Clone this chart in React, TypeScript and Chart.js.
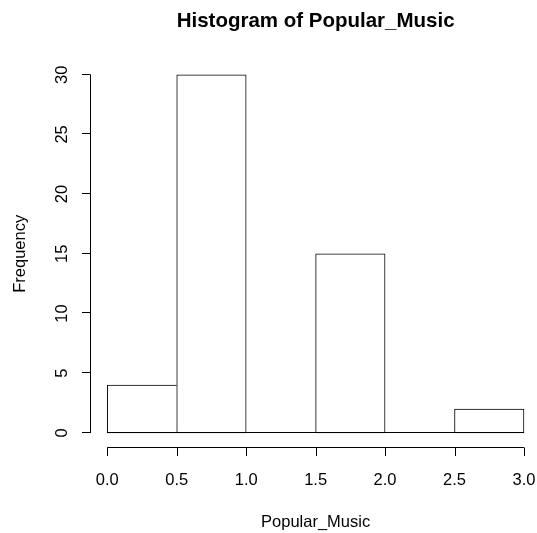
import React, { useEffect, useRef } from "react";
import { Chart, registerables } from "chart.js";

Chart.register(...registerables);

// ---- data ----
const BREAKS = [0, 0.5, 1.0, 1.5, 2.0, 2.5, 3.0];
const COUNTS = [4, 30, 0, 15, 0, 2];
const X_TICKS = [0, 0.5, 1.0, 1.5, 2.0, 2.5, 3.0];
const X_TICK_LABELS = ["0.0", "0.5", "1.0", "1.5", "2.0", "2.5", "3.0"];
const Y_TICKS = [0, 5, 10, 15, 20, 25, 30];
const Y_TICK_LABELS = ["0", "5", "10", "15", "20", "25", "30"];
const TITLE = "Histogram of Popular_Music";
const X_TITLE = "Popular_Music";
const Y_TITLE = "Frequency";

const FONT = '"Liberation Sans", Arial, Helvetica, sans-serif';

const rAxesPlugin = {
  id: "rAxes",
  afterDraw(chart: any) {
    const { ctx, chartArea } = chart;
    const xs = chart.scales.x;
    const ys = chart.scales.y;
    const TICK = 8.5;
    ctx.save();
    ctx.strokeStyle = "#000";
    ctx.fillStyle = "#000";
    ctx.lineWidth = 1;

    // baseline of the histogram (zero-height bins)
    const y0 = Math.round(ys.getPixelForValue(0)) - 0.5;
    ctx.beginPath();
    ctx.moveTo(xs.getPixelForValue(BREAKS[0]), y0);
    ctx.lineTo(xs.getPixelForValue(BREAKS[BREAKS.length - 1]), y0);
    ctx.stroke();

    // x axis
    const ay = Math.round(chartArea.bottom) + 0.5;
    ctx.beginPath();
    ctx.moveTo(xs.getPixelForValue(X_TICKS[0]), ay);
    ctx.lineTo(xs.getPixelForValue(X_TICKS[X_TICKS.length - 1]), ay);
    X_TICKS.forEach((t) => {
      const px = Math.round(xs.getPixelForValue(t)) + 0.5;
      ctx.moveTo(px, ay);
      ctx.lineTo(px, ay + TICK);
    });
    ctx.stroke();
    ctx.font = `16.5px ${FONT}`;
    ctx.textAlign = "center";
    ctx.textBaseline = "middle";
    X_TICKS.forEach((t, i) => {
      ctx.fillText(X_TICK_LABELS[i], xs.getPixelForValue(t), ay + 33);
    });

    // y axis
    const ax = Math.round(chartArea.left) - 0.5;
    ctx.beginPath();
    ctx.moveTo(ax, ys.getPixelForValue(Y_TICKS[0]));
    ctx.lineTo(ax, ys.getPixelForValue(Y_TICKS[Y_TICKS.length - 1]));
    Y_TICKS.forEach((t) => {
      const py = Math.round(ys.getPixelForValue(t)) - 0.5;
      ctx.moveTo(ax, py);
      ctx.lineTo(ax - TICK, py);
    });
    ctx.stroke();
    Y_TICKS.forEach((t, i) => {
      ctx.save();
      ctx.translate(ax - 28, ys.getPixelForValue(t));
      ctx.rotate(-Math.PI / 2);
      ctx.fillText(Y_TICK_LABELS[i], 0, 0);
      ctx.restore();
    });

    // axis titles
    const midX = xs.getPixelForValue((BREAKS[0] + BREAKS[BREAKS.length - 1]) / 2);
    const midY = (chartArea.top + chartArea.bottom) / 2;
    ctx.fillText(X_TITLE, midX, ay + 74.5);
    ctx.save();
    ctx.translate(ax - 70, midY);
    ctx.rotate(-Math.PI / 2);
    ctx.fillText(Y_TITLE, 0, 0);
    ctx.restore();

    // main title
    ctx.font = `bold 20.5px ${FONT}`;
    ctx.fillText(TITLE, midX, 21);

    ctx.restore();
  },
};

export default function App() {
  const ref = useRef<HTMLCanvasElement | null>(null);

  useEffect(() => {
    if (!ref.current) return;
    const centers = COUNTS.map((_, i) => (BREAKS[i] + BREAKS[i + 1]) / 2);
    const chart = new Chart(ref.current, {
      type: "bar",
      data: {
        datasets: [
          {
            data: centers.map((c, i) => ({ x: c, y: COUNTS[i] })),
            backgroundColor: "#ffffff",
            borderColor: "#000000",
            borderSkipped: false,
            borderWidth: (ctx: any) => {
              const i = ctx.dataIndex;
              const next = COUNTS[i + 1];
              return { left: 1, top: 1, bottom: 1, right: next && next > 0 ? 0 : 1 };
            },
            barPercentage: 1,
            categoryPercentage: 1,
          } as any,
        ],
      },
      options: {
        animation: false,
        responsive: false,
        devicePixelRatio: 1,
        layout: { padding: { left: 90.6, top: 60.4, right: 0, bottom: 85.8 } },
        plugins: {
          legend: { display: false },
          tooltip: { enabled: false },
          title: { display: false },
        },
        scales: {
          x: {
            type: "linear",
            display: false,
            min: -0.12,
            max: 3.0938,
            offset: false,
            ticks: { stepSize: 0.5, includeBounds: false },
            grid: { display: false },
          },
          y: {
            type: "linear",
            display: false,
            min: -1.2,
            max: 31.2,
            grid: { display: false },
          },
        },
      },
      plugins: [rAxesPlugin],
    });
    return () => chart.destroy();
  }, []);

  return (
    <div style={{ position: "absolute", left: 0, top: 0, width: 537, height: 533, background: "#fff" }}>
      <canvas ref={ref} width={537} height={533} style={{ width: 537, height: 533, display: "block" }} />
    </div>
  );
}
